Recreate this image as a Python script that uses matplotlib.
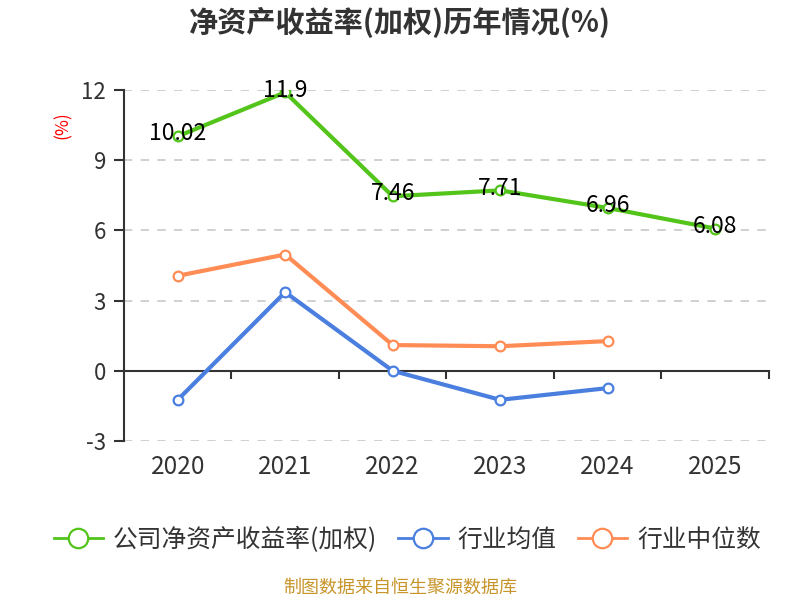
import numpy as np
import matplotlib.pyplot as plt
from matplotlib.lines import Line2D
from matplotlib.transforms import blended_transform_factory

plt.rcParams['font.family'] = ['Noto Sans CJK SC', 'DejaVu Sans']

years = ['2020', '2021', '2022', '2023', '2024', '2025']
company = [10.02, 11.9, 7.46, 7.71, 6.96, 6.08]
company_labels = ['10.02', '11.9', '7.46', '7.71', '6.96', '6.08']
industry_avg = [-1.24, 3.36, 0.0, -1.24, -0.74]
industry_mid = [4.06, 4.97, 1.10, 1.05, 1.27]
yticks = [-3, 0, 3, 6, 9, 12]
names = ['公司净资产收益率(加权)', '行业均值', '行业中位数']

c_green = '#52c41a'
c_blue = '#4a7fe0'
c_orange = '#ff8c55'

fig = plt.figure(figsize=(8, 6), dpi=100)
ax = fig.add_axes([0.155, 0.265, 0.806, 0.585])

x = np.arange(len(years))
x5 = np.arange(len(industry_avg))
mk = dict(marker='o', markersize=7, markerfacecolor='white', markeredgewidth=1.6, linewidth=3)
ax.plot(x, company, color=c_green, zorder=4, **mk)
ax.plot(x5, industry_avg, color=c_blue, zorder=3, **mk)
ax.plot(x5, industry_mid, color=c_orange, zorder=3, **mk)

for xi, v, lab in zip(x, company, company_labels):
    ax.text(xi, v + 0.1, lab, ha='center', va='center',
            fontsize=16.5, color='black', zorder=5)

ax.set_xlim(-0.5, len(years) - 0.5)
ax.set_ylim(-3, 12)
ax.set_yticks(yticks)
ax.set_yticklabels([str(t) for t in yticks], fontsize=16, color='#333333')
ax.tick_params(axis='y', length=7, width=1.5, color='#333333', pad=6)

# category boundaries as ticks on the zero line
ax.spines['bottom'].set_position(('data', 0))
ax.spines['bottom'].set_linewidth(1.5)
ax.spines['bottom'].set_color('#333333')
ax.set_xticks(np.arange(len(years)) + 0.5)
ax.set_xticklabels([])
ax.tick_params(axis='x', length=6, width=1.5, color='#333333')
trans = blended_transform_factory(ax.transData, ax.transAxes)
for xi, lab in zip(x, years):
    ax.text(xi, -0.075, lab, transform=trans, ha='center', va='center',
            fontsize=17.5, color='#333333')

ax.spines['left'].set_linewidth(1.5)
ax.spines['left'].set_color('#333333')
ax.spines['top'].set_visible(False)
ax.spines['right'].set_visible(False)

for t in yticks:
    if t != 0:
        ax.axhline(t, color='#c8c8c8', linestyle=(0, (5, 5)), linewidth=1.2, zorder=1)

fig.text(0.5, 0.962, '净资产收益率(加权)历年情况(%)', ha='center', va='center',
         fontsize=21, fontweight='bold', color='#333333')
fig.text(0.079, 0.792, '(%)', ha='center', va='center', rotation=90,
         fontsize=12.5, color='red')

handles = [Line2D([], [], color=c, linewidth=2, marker='o', markersize=14,
                  markerfacecolor='white', markeredgewidth=1.6)
           for c in [c_green, c_blue, c_orange]]
fig.legend(handles, names, loc='center', bbox_to_anchor=(0.509, 0.1), ncol=3, frameon=False,
           fontsize=17.8, handlelength=2.0, columnspacing=0.85, handletextpad=0.4,
           labelcolor='#333333')
fig.text(0.5, 0.02, '制图数据来自恒生聚源数据库', ha='center', va='center',
         fontsize=13, color='#c8952a')

fig.savefig('out.png', dpi=100)
